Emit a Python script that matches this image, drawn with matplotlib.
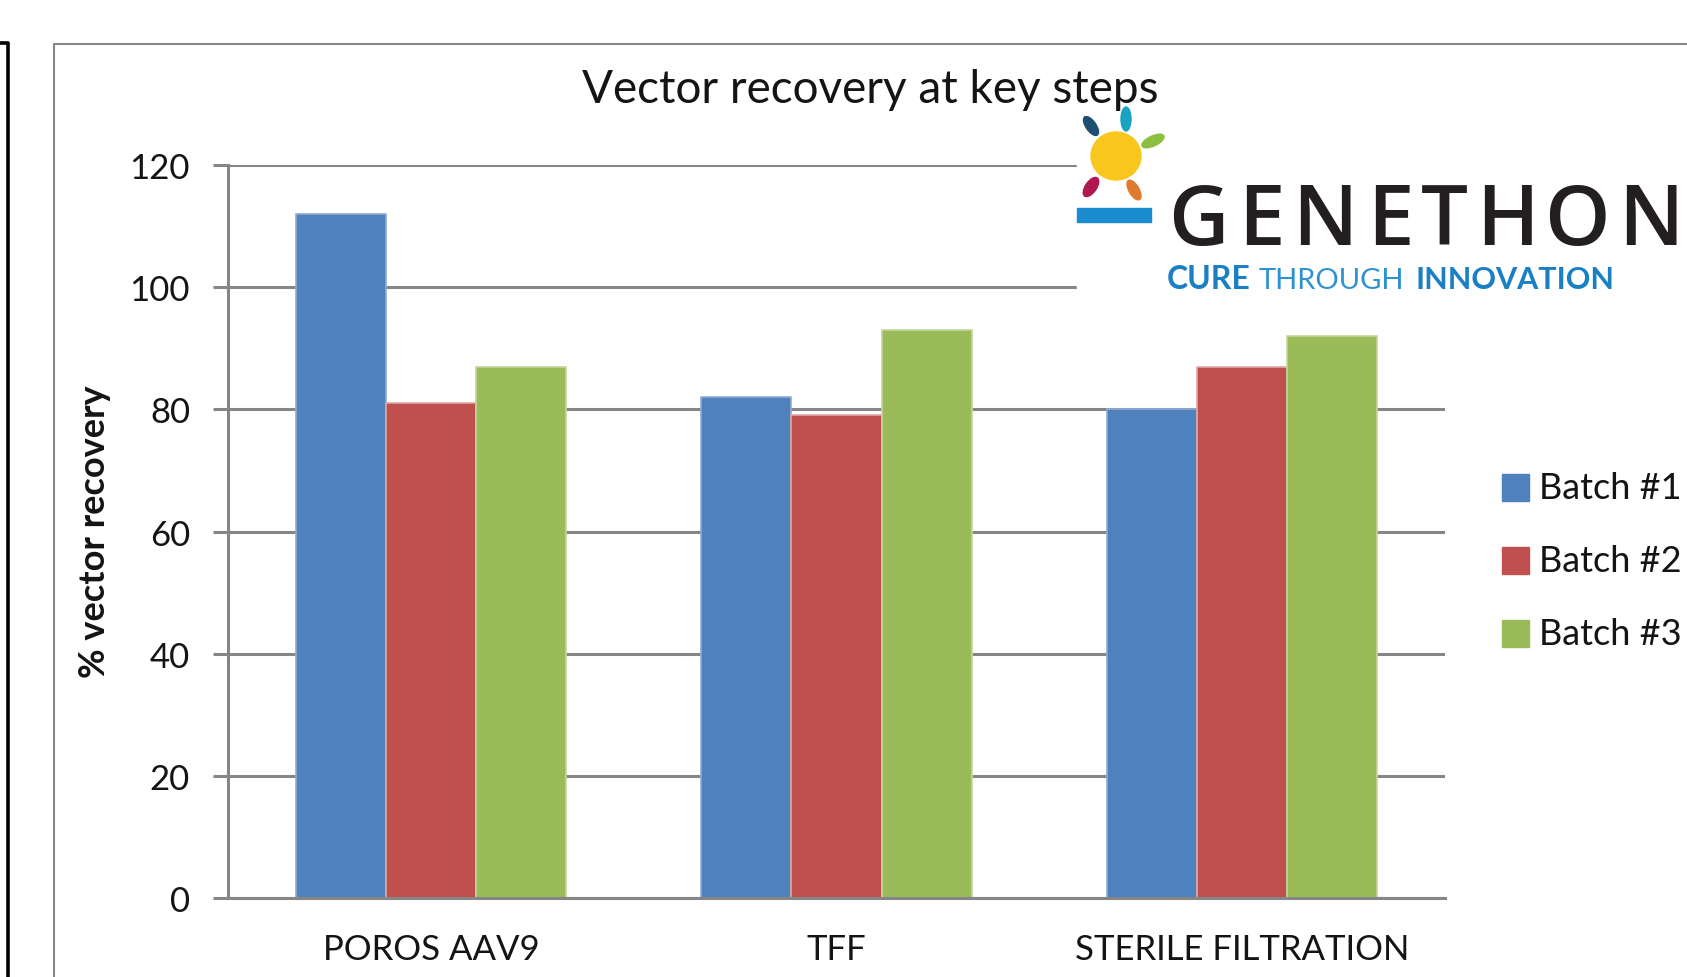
import numpy as np
import matplotlib.pyplot as plt
from matplotlib.patches import Rectangle, Ellipse
from matplotlib.lines import Line2D

# data
steps = ["POROS AAV9", "TFF", "STERILE FILTRATION"]
batches = ["Batch #1", "Batch #2", "Batch #3"]
batch1 = [112, 82, 80]
batch2 = [81, 79, 87]
batch3 = [87, 93, 92]
y_ticks = [0, 20, 40, 60, 80, 100, 120]

colors = ["#4f81bd", "#c0504d", "#9bbb59"]
edges = ["#8fabd6", "#dea9a7", "#c3d69d"]
grid_c = "#868686"
txt_c = "#141414"

W, H = 1687, 978
def fx(x):
    return x / W
def fy(y):
    return 1 - y / H

plt.rcParams['font.family'] = ['Lato', 'DejaVu Sans']

fig = plt.figure(figsize=(W / 100, H / 100), dpi=100)
fig.patch.set_facecolor("white")

# outer frame and left bracket
fig.add_artist(Line2D([fx(54), fx(54), fx(W + 5)], [fy(H + 5), fy(45), fy(45)],
                      color=grid_c, lw=1.5, transform=fig.transFigure))
fig.add_artist(Line2D([fx(0), fx(8), fx(8)], [fy(43.5), fy(43.5), fy(H + 5)],
                      color="black", lw=2.6, transform=fig.transFigure))

ax = fig.add_axes([fx(228), fy(899), fx(1445) - fx(228), fy(166) - fy(899)])
x = np.arange(len(steps))
w = 0.222
for i, vals in enumerate([batch1, batch2, batch3]):
    ax.bar(x + (i - 1) * w, vals, w, color=colors[i], edgecolor=edges[i],
           linewidth=1.2, zorder=2)

ax.set_xlim(-0.5, len(steps) - 0.5)
ax.set_ylim(0, 120)
ax.set_yticks(y_ticks)
ax.set_xticks(x)
ax.set_xticklabels(steps)
ax.set_axisbelow(True)
ax.yaxis.grid(True, color=grid_c, lw=2.2)
for s in ["top", "right"]:
    ax.spines[s].set_visible(False)
for s in ["left", "bottom"]:
    ax.spines[s].set_color(grid_c)
    ax.spines[s].set_linewidth(2.2)
ax.tick_params(axis="y", direction="out", length=10.8, width=2.2, color=grid_c,
               pad=16.5, labelsize=25, labelcolor=txt_c)
ax.tick_params(axis="x", length=0, pad=25, labelsize=25, labelcolor=txt_c)

fig.text(fx(95), fy(532), "% vector recovery", rotation=90, ha="center", va="center",
         fontsize=26, fontweight="bold", color=txt_c)
fig.text(fx(870), fy(103), "Vector recovery at key steps", ha="center", va="baseline",
         fontsize=33, color=txt_c, zorder=5)

# legend
leg_y = [488, 561, 634]
for i, name in enumerate(batches):
    fig.add_artist(Rectangle((fx(1502), fy(leg_y[i] + 13.5)), 27 / W, 27 / H,
                             color=colors[i], transform=fig.transFigure))
    fig.text(fx(1539), fy(leg_y[i] + 11), name, ha="left", va="baseline",
             fontsize=26, color=txt_c)

# logo
fig.add_artist(Rectangle((fx(1077), fy(300)), (W - 1077) / W, 190 / H,
                         color="white", transform=fig.transFigure, zorder=3))
sun = [(1091, 127, 10, 22, 35, "#1d4f6e"), (1126, 120, 10, 24, 0, "#1aa3c2"),
       (1153, 142, 10, 24, -65, "#8cbf3f"), (1091, 188, 11, 22, -35, "#b0194f"),
       (1134, 191, 10, 22, 30, "#e07a2e")]
for cx, cy, ew, eh, ang, c in sun:
    fig.add_artist(Ellipse((cx, H - cy), ew, eh, angle=ang, color=c,
                           transform=None, zorder=4))
fig.add_artist(Ellipse((1116, H - 157), 50, 48, color="#f8c61c", transform=None, zorder=4))
fig.add_artist(Rectangle((fx(1077), fy(223)), 74 / W, 14 / H, color="#1a8dd0",
                         transform=fig.transFigure, zorder=4))
letters = "GENETHON"
centers = [1198, 1261, 1325, 1390, 1444, 1507, 1577, 1651]
for ch, cx in zip(letters, centers):
    fig.text(fx(cx), fy(245), ch, ha="center", va="baseline", fontsize=60,
             fontweight="semibold", family="Open Sans", color="#231f20", zorder=5)
fig.text(fx(1167), fy(289), "CURE", ha="left", va="baseline", fontsize=23,
         fontweight="bold", color="#1b7fc4", zorder=5)
fig.text(fx(1259), fy(289), "THROUGH", ha="left", va="baseline", fontsize=21,
         color="#2e92d2", zorder=5)
fig.text(fx(1416), fy(289), "INNOVATION", ha="left", va="baseline", fontsize=22,
         fontweight="bold", color="#1b7fc4", zorder=5)

plt.savefig("out.png", dpi=100)
